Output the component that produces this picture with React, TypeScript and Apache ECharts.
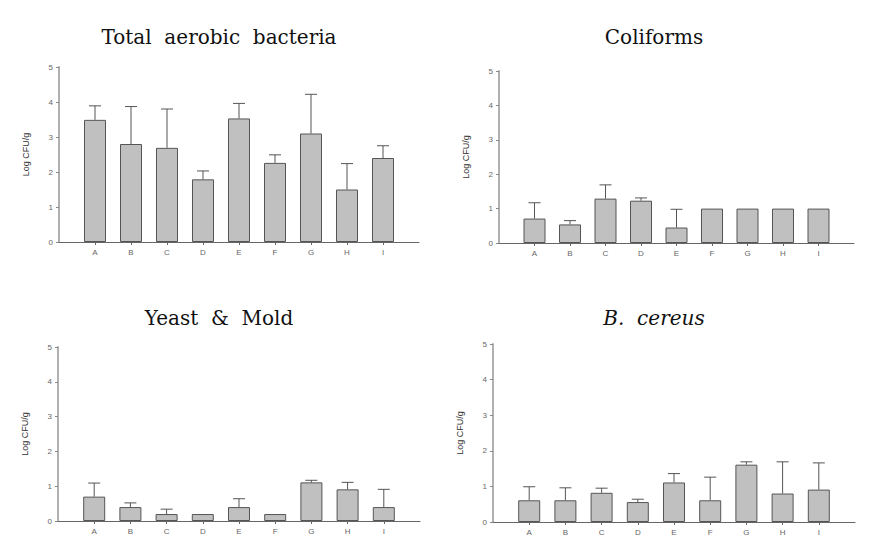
import React, { useEffect, useRef } from "react";
import * as echarts from "echarts";

const categories = ["A", "B", "C", "D", "E", "F", "G", "H", "I"];
const yTicks = [0, 1, 2, 3, 4, 5];

const taMean = [3.49, 2.8, 2.69, 1.79, 3.53, 2.26, 3.1, 1.5, 2.4];
const taSd = [0.4, 1.07, 1.11, 0.24, 0.43, 0.23, 1.12, 0.74, 0.35];

const coliMean = [0.71, 0.54, 1.29, 1.23, 0.45, 1.0, 1.0, 1.0, 1.0];
const coliSd = [0.46, 0.11, 0.4, 0.08, 0.53, 0, 0, 0, 0];

const ymMean = [0.7, 0.4, 0.2, 0.2, 0.4, 0.2, 1.11, 0.91, 0.4];
const ymSd = [0.39, 0.12, 0.14, 0, 0.24, 0, 0.06, 0.2, 0.51];

const bcMean = [0.61, 0.61, 0.82, 0.56, 1.11, 0.61, 1.61, 0.8, 0.91];
const bcSd = [0.38, 0.35, 0.13, 0.08, 0.25, 0.65, 0.08, 0.89, 0.75];

const panels = [
  { title: "Total  aerobic  bacteria", italic: false, mean: taMean, sd: taSd },
  { title: "Coliforms", italic: false, mean: coliMean, sd: coliSd },
  { title: "Yeast  &  Mold", italic: false, mean: ymMean, sd: ymSd },
  { title: "B.  cereus", italic: true, mean: bcMean, sd: bcSd },
];

const grids = [
  { left: 59, top: 67, width: 360, height: 175 },
  { left: 499, top: 71, width: 355, height: 172 },
  { left: 58, top: 347, width: 362, height: 174 },
  { left: 493, top: 344, width: 362, height: 178 },
];

const titlePos = [
  { x: 219, y: 37 },
  { x: 654, y: 37 },
  { x: 219, y: 318 },
  { x: 654, y: 318 },
];

export default function App() {
  const ref = useRef<HTMLDivElement>(null);

  useEffect(() => {
    document.body.style.margin = "0";
    const chart = echarts.init(ref.current!, null, { renderer: "svg" });

    const xAxis: any[] = [];
    const yAxis: any[] = [];
    const series: any[] = [];

    panels.forEach((p, gi) => {
      xAxis.push({
        type: "value",
        gridIndex: gi,
        min: 0,
        max: 10,
        interval: 1,
        splitLine: { show: false },
        axisLine: { show: true, lineStyle: { color: "#666", width: 1 } },
        axisTick: {
          show: true,
          length: 3,
          lineStyle: { color: "#666" },
          customValues: categories.map((_, i) => i + 1),
        },
        axisLabel: {
          customValues: categories.map((_, i) => i + 1),
          formatter: (v: number) => categories[v - 1] ?? "",
          fontSize: 8,
          color: "#666",
          fontFamily: "Liberation Sans",
          margin: 6,
        },
      });
      yAxis.push({
        type: "value",
        gridIndex: gi,
        min: 0,
        max: 5,
        interval: 1,
        name: "Log CFU/g",
        nameLocation: "middle",
        nameGap: 29,
        nameTextStyle: { fontSize: 9, color: "#333", fontFamily: "Liberation Sans" },
        splitLine: { show: false },
        axisLine: { show: true, lineStyle: { color: "#b0b0b0", width: 2 } },
        axisTick: { show: true, length: 3, lineStyle: { color: "#888" } },
        axisLabel: {
          fontSize: 8,
          color: "#666",
          fontFamily: "Liberation Sans",
          margin: 6,
          formatter: (v: number) => (yTicks.includes(v) ? String(v) : ""),
        },
      });
      series.push({
        type: "bar",
        xAxisIndex: gi,
        yAxisIndex: gi,
        barWidth: 22,
        itemStyle: { color: "#c0c0c0", borderColor: "#555", borderWidth: 1 },
        data: p.mean.map((m, i) => [i + 1, m]),
        z: 2,
      });
      series.push({
        type: "custom",
        xAxisIndex: gi,
        yAxisIndex: gi,
        z: 3,
        data: p.mean.map((m, i) => [i + 1, m, p.sd[i]]),
        renderItem: (params: any, api: any) => {
          const x = api.value(0);
          const m = api.value(1);
          const s = api.value(2);
          if (!s) return null;
          const base = api.coord([x, m]);
          const top = api.coord([x, m + s]);
          const style = { stroke: "#555", lineWidth: 1 };
          return {
            type: "group",
            children: [
              { type: "line", shape: { x1: base[0], y1: base[1], x2: top[0], y2: top[1] }, style },
              { type: "line", shape: { x1: top[0] - 6, y1: top[1], x2: top[0] + 6, y2: top[1] }, style },
            ],
          };
        },
      });
    });

    chart.setOption({
      animation: false,
      backgroundColor: "#fff",
      grid: grids.map((g) => ({ ...g, containLabel: false })),
      xAxis,
      yAxis,
      series,
      graphic: panels.map((p, i) => ({
        type: "text",
        x: titlePos[i].x,
        y: titlePos[i].y,
        style: {
          text: p.title,
          fontFamily: "DejaVu Serif",
          fontSize: 20,
          fontStyle: p.italic ? "italic" : "normal",
          fill: "#111",
          textAlign: "center",
          textVerticalAlign: "middle",
        },
      })),
    });

    return () => chart.dispose();
  }, []);

  return <div ref={ref} style={{ width: 872, height: 543 }} />;
}
